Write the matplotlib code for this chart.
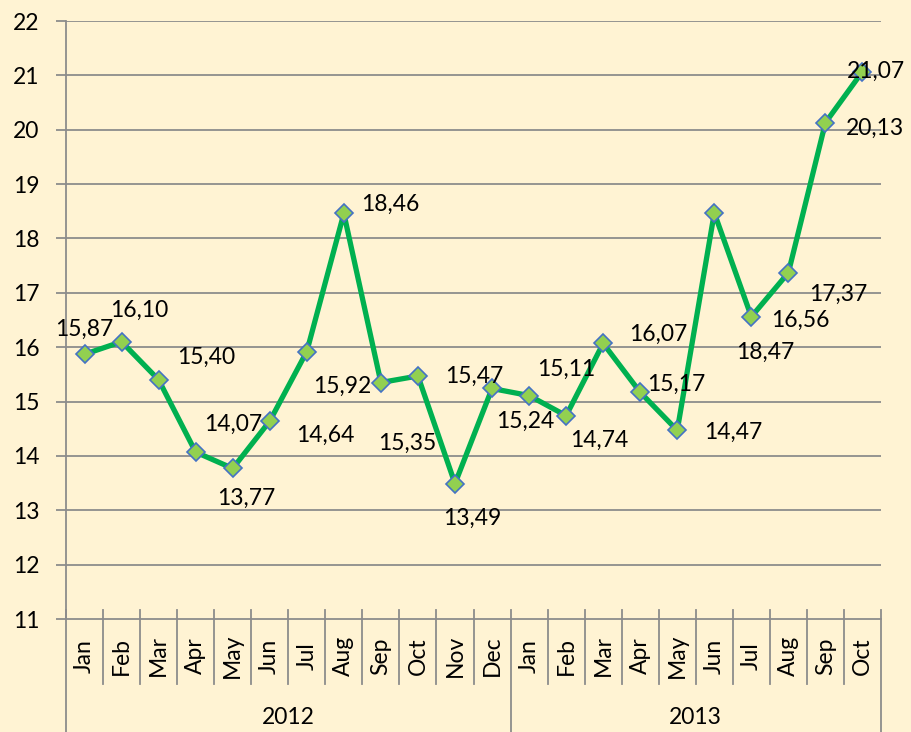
import matplotlib
matplotlib.use("Agg")
import matplotlib.pyplot as plt

plt.rcParams['font.family'] = ['Lato', 'DejaVu Sans']

months_2012 = ['Jan', 'Feb', 'Mar', 'Apr', 'May', 'Jun', 'Jul', 'Aug', 'Sep', 'Oct', 'Nov', 'Dec']
months_2013 = ['Jan', 'Feb', 'Mar', 'Apr', 'May', 'Jun', 'Jul', 'Aug', 'Sep', 'Oct']
years = ['2012', '2013']
values = [15.87, 16.10, 15.40, 14.07, 13.77, 14.64, 15.92, 18.46, 15.35, 15.47, 13.49, 15.24,
          15.11, 14.74, 16.07, 15.17, 14.47, 18.47, 16.56, 17.37, 20.13, 21.07]

# label offsets in pixels (excel "best fit" placement)
label_off = [(0, 25), (18, 31), (48, 22), (38, 28), (14, -30), (56, -14), (35, -35), (46, 9),
             (26, -61), (56, 0), (17, -35), (33, -33), (37, 26), (33, -25), (55, 9), (36, 8),
             (56, -2), (51, -139), (49, -4), (50, -22), (50, -6), (13, 0)]

bg = '#FFF3D3'
grid = '#8C8C8C'
fs = 16.5

fig = plt.figure(figsize=(9.11, 7.32), dpi=100, facecolor=bg)
W, H = 911, 732
left, right, top, bottom = 66, 881, 21, 619
ax = fig.add_axes([left / W, (H - bottom) / H, (right - left) / W, (bottom - top) / H])
ax.set_facecolor(bg)

months = months_2012 + months_2013
x = list(range(len(values)))

ax.set_ylim(11, 22)
ax.set_xlim(-0.5, len(values) - 0.5)
ax.set_yticks(range(11, 23))
for y in range(12, 23):
    ax.axhline(y, color=grid, lw=1.3, zorder=1)

ax.plot(x, values, color='#00B050', lw=3.8, marker='D', markersize=9.5,
        markerfacecolor='#92D050', markeredgecolor='#4472C4', markeredgewidth=1.2, zorder=3)

for i, v in enumerate(values):
    ax.annotate(f"{v:.2f}".replace('.', ','), (i, v), xytext=label_off[i],
                textcoords='offset pixels', ha='center', va='center', fontsize=fs, zorder=4,
                annotation_clip=False)

for s in ['top', 'right']:
    ax.spines[s].set_visible(False)
for s in ['left', 'bottom']:
    ax.spines[s].set_color(grid)
    ax.spines[s].set_linewidth(1.3)
ax.tick_params(axis='y', length=7, width=1.3, color=grid, labelsize=fs, pad=12)
ax.set_xticks([])

# category axis: month labels, separators and year groups
tr = ax.get_xaxis_transform()
ph = bottom - top
tick_top = 9 / ph
for i, m in enumerate(months):
    ax.text(i, -(656 - bottom) / ph, m, rotation=90, ha='center', va='center',
            fontsize=fs, transform=tr, clip_on=False)
n12 = len(months_2012)
for i in range(len(months) + 1):
    xb = i - 0.5
    low = (732 - bottom) / ph if i in (0, n12, len(months)) else (684 - bottom) / ph
    ax.plot([xb, xb], [tick_top, -low], color=grid, lw=1.3, transform=tr, clip_on=False)
year_centers = [(n12 - 1) / 2, n12 + (len(months_2013) - 1) / 2]
for yc, yr in zip(year_centers, years):
    ax.text(yc, -(718 - bottom) / ph, yr, ha='center', va='center', fontsize=fs,
            transform=tr, clip_on=False)

fig.savefig('out.png', dpi=100, facecolor=bg)
